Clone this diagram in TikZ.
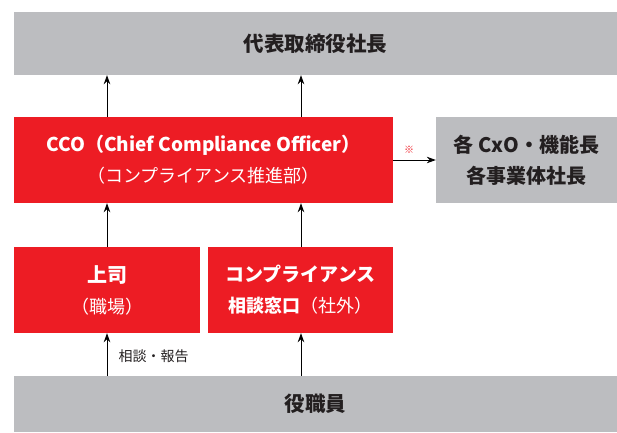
\documentclass[tikz,border=0pt]{standalone}
\usepackage{fontspec}
\setmainfont{Noto Sans CJK JP}
\usepackage{xcolor}
\usetikzlibrary{arrows.meta}
\definecolor{ccored}{RGB}{237,28,36}
\definecolor{ccogray}{RGB}{188,189,192}
\definecolor{ccotext}{RGB}{35,31,32}

\begin{document}
\begin{tikzpicture}[x=1pt,y=-1pt,
    graybox/.style={fill=ccogray,text=ccotext,inner sep=0pt,align=center},
    redbox/.style={fill=ccored,text=white,inner sep=0pt,align=center},
    link/.style={draw=black,line width=0.8pt,-{Stealth[length=9pt,width=6.5pt]}}]
    \useasboundingbox (0,0) rectangle (617,432);
    % top: president
    \node[graybox,minimum width=603pt,minimum height=63pt,
          font=\bfseries\fontsize{20.5}{24}\selectfont] (pres) at (315.5,43.5) {代表取締役社長};
    % CCO
    \node[redbox,minimum width=379pt,minimum height=86pt,
          font=\fontsize{18}{31}\selectfont] (cco) at (203.5,160)
          {\textbf{\fontsize{19}{31}\selectfont CCO（Chief Compliance Officer）}\\（コンプライアンス推進部）};
    % CxO
    \node[graybox,minimum width=181pt,minimum height=86pt,
          font=\bfseries\fontsize{20}{31}\selectfont] (cxo) at (526.5,160)
          {各 CxO・機能長\\各事業体社長};
    % boss
    \node[redbox,minimum width=186pt,minimum height=86pt,
          font=\fontsize{18}{31}\selectfont] (boss) at (107,290)
          {\textbf{\fontsize{20}{31}\selectfont 上司}\\（職場）};
    % hotline
    \node[redbox,minimum width=185pt,minimum height=86pt,
          font=\fontsize{18}{31}\selectfont] (desk) at (300.5,290)
          {\textbf{\fontsize{19}{31}\selectfont コンプライアンス}\\\textbf{相談窓口}（社外）};
    % staff
    \node[graybox,minimum width=603pt,minimum height=56pt,
          font=\bfseries\fontsize{20.5}{24}\selectfont] (staff) at (315.5,404) {役職員};
    % arrows
    \coordinate (lx) at (107,0);
    \coordinate (rx) at (301,0);
    \draw[link] (cco.north -| lx) -- (pres.south -| lx);
    \draw[link] (cco.north -| rx) -- (pres.south -| rx);
    \draw[link] (boss.north -| lx) -- (cco.south -| lx);
    \draw[link] (desk.north -| rx) -- (cco.south -| rx);
    \draw[link] (staff.north -| lx) -- (boss.south -| lx);
    \draw[link] (staff.north -| rx) -- (desk.south -| rx);
    \draw[link] (cco.east) -- (cxo.west);
    \node[text=ccored,font=\fontsize{10}{10}\selectfont] (note) at (409,150) {※};
    \node[anchor=west,text=ccotext,font=\fontsize{14}{16}\selectfont] (talk) at (115,356) {相談・報告};
\end{tikzpicture}
\end{document}
